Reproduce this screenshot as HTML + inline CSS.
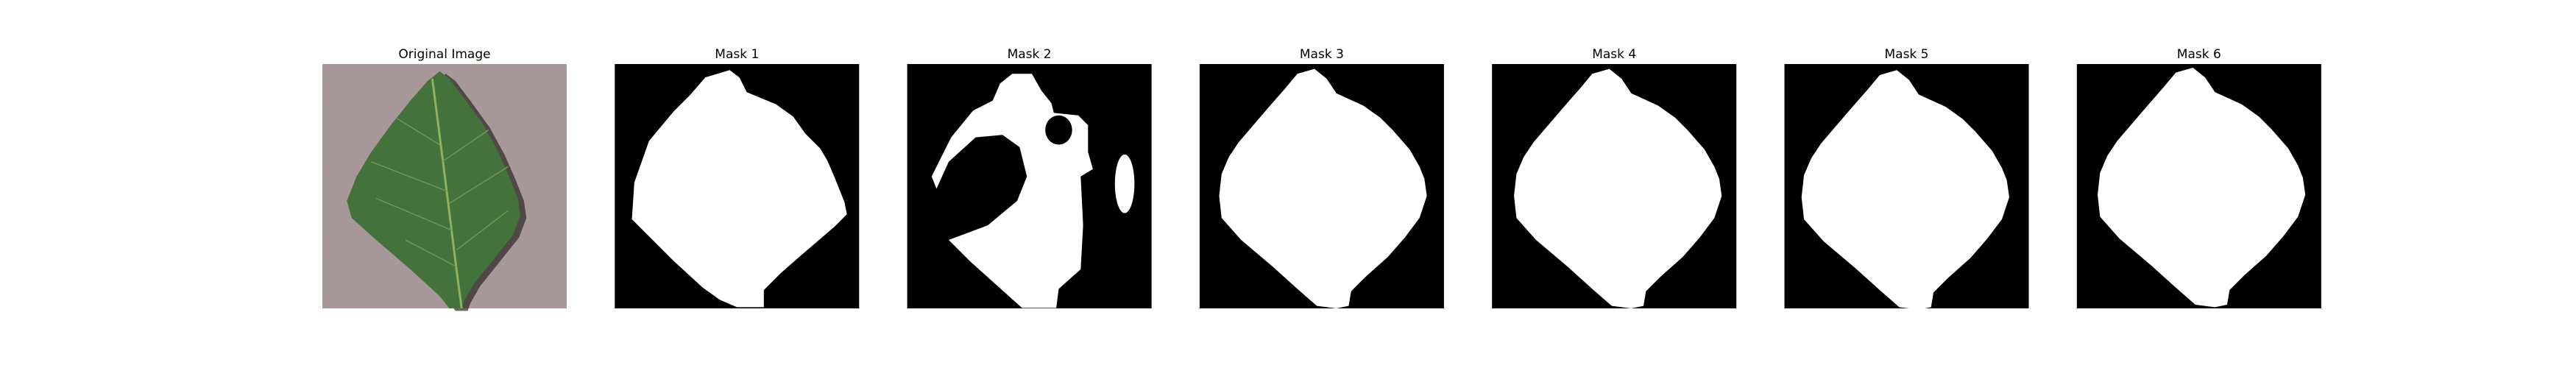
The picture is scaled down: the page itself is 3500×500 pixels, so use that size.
<!DOCTYPE html>
<html><head><meta charset="utf-8"><style>
html,body{margin:0;padding:0;background:#fff;}
svg{display:block;}
text{font-family:"DejaVu Sans","Liberation Sans",sans-serif;font-size:17px;fill:#000;}
</style></head><body>
<svg id="fig" width="3500" height="500" viewBox="0 0 3500 500" xmlns="http://www.w3.org/2000/svg">
<defs>
<filter id="grain" x="0" y="0" width="1" height="1">
<feTurbulence type="fractalNoise" baseFrequency="0.9" numOctaves="2" seed="3" result="n"/>
<feColorMatrix type="matrix" values="0 0 0 0 0.5  0 0 0 0 0.45  0 0 0 0 0.46  0 0 0 0.35 0" />
<feComposite in2="SourceGraphic" operator="in"/>
</filter>
</defs>
</svg>
<script>
const titles = ["Original Image","Mask 1","Mask 2","Mask 3","Mask 4","Mask 5","Mask 6"];
const leafBase = [[0.47,0.02],[0.52,0.06],[0.56,0.12],[0.67,0.17],[0.74,0.22],[0.79,0.27],[0.86,0.35],[0.90,0.42],[0.92,0.47],[0.93,0.54],[0.90,0.63],[0.84,0.71],[0.77,0.79],[0.68,0.87],[0.62,0.93],[0.61,0.99],[0.56,1.0],[0.48,0.99],[0.40,0.92],[0.30,0.83],[0.17,0.72],[0.09,0.63],[0.08,0.54],[0.09,0.45],[0.12,0.38],[0.16,0.32],[0.22,0.25],[0.28,0.18],[0.35,0.10],[0.40,0.04]];
const leafOrig = [[0.48,0.03],[0.52,0.06],[0.58,0.14],[0.66,0.25],[0.72,0.36],[0.76,0.45],[0.80,0.55],[0.81,0.62],[0.78,0.70],[0.70,0.80],[0.62,0.90],[0.58,0.97],[0.57,1.0],[0.52,1.0],[0.48,0.95],[0.36,0.84],[0.22,0.72],[0.12,0.63],[0.10,0.56],[0.14,0.46],[0.20,0.36],[0.28,0.25],[0.36,0.15],[0.43,0.07]];
const mask1 = [[0.48,0.02],[0.52,0.05],[0.55,0.11],[0.67,0.16],[0.74,0.21],[0.79,0.28],[0.85,0.34],[0.88,0.39],[0.91,0.46],[0.95,0.56],[0.96,0.61],[0.91,0.66],[0.84,0.72],[0.77,0.78],[0.69,0.85],[0.62,0.92],[0.62,0.99],[0.51,0.99],[0.44,0.96],[0.37,0.91],[0.25,0.80],[0.14,0.69],[0.08,0.63],[0.09,0.48],[0.15,0.31],[0.20,0.25],[0.25,0.19],[0.32,0.12],[0.38,0.05]];
const mask2Outer = [[0.43,0.04],[0.51,0.04],[0.55,0.11],[0.59,0.16],[0.60,0.20],[0.70,0.21],[0.74,0.25],[0.74,0.36],[0.76,0.43],[0.71,0.46],[0.72,0.66],[0.71,0.84],[0.62,0.92],[0.61,0.998],[0.47,0.998],[0.26,0.81],[0.17,0.72],[0.33,0.66],[0.45,0.56],[0.49,0.46],[0.46,0.34],[0.39,0.29],[0.28,0.30],[0.17,0.40],[0.12,0.51],[0.10,0.46],[0.14,0.38],[0.18,0.30],[0.27,0.19],[0.35,0.15],[0.38,0.08]];
const mask2Hole = [0.62,0.27,0.055,0.06];
const mask2Blob = [0.89,0.49,0.04,0.12];
const leafJitter = [[0,0],[0.01,0],[-0.01,0.005],[0.005,-0.005]];

const svg = document.getElementById('fig');
const NS = 'http://www.w3.org/2000/svg';
const axY = 87, axS = 332, axX0 = 438, axStep = 397.3;
function px(i, nx){ return axX0 + i*axStep + nx*axS; }
function py(ny){ return axY + ny*axS; }
function pts(i, arr, dx, dy){ return arr.map(p => px(i, p[0]+(dx||0)) + ',' + py(p[1]+(dy||0))).join(' '); }
function mk(tag, attrs){ const e = document.createElementNS(NS, tag); for (const k in attrs) e.setAttribute(k, attrs[k]); svg.appendChild(e); return e; }

titles.forEach((t, i) => {
  const cx = px(i, 0.5);
  const tt = mk('text', {x: cx, y: 79, 'text-anchor': 'middle'});
  
  
  tt.textContent = t;
  if (i === 0) {
    const bg = mk('rect', {x: px(0,0), y: axY, width: axS, height: axS, fill: '#a39294'});
    
    
    const g = mk('rect', {x: px(0,0), y: axY, width: axS, height: axS, fill: '#c8b9ba', filter: 'url(#grain)'});
    
    
    const sh = mk('polygon', {points: pts(0, leafOrig, 0.025, 0.01), fill: '#2c2523', opacity: 0.7});
    
    
    const leaf = mk('polygon', {points: pts(0, leafOrig), fill: '#43733a'});
    
    
    const mid = mk('polyline', {points: [[0.45,0.06],[0.50,0.45],[0.55,0.85],[0.57,1.0]].map(p=>px(0,p[0])+','+py(p[1])).join(' '), fill:'none', stroke:'#8fb061', 'stroke-width': 3});
    
    
    [[0.48,0.33,0.30,0.22],[0.49,0.40,0.68,0.27],[0.51,0.52,0.20,0.40],[0.52,0.57,0.76,0.42],[0.53,0.68,0.22,0.55],[0.55,0.76,0.76,0.60],[0.55,0.83,0.34,0.72]].forEach((v,k)=>{
      const l = mk('line', {x1: px(0,v[0]), y1: py(v[1]), x2: px(0,v[2]), y2: py(v[3]), stroke: '#6f9650', 'stroke-width': 1.5});
      
      
    });
  } else {
    const bg = mk('rect', {x: px(i,0), y: axY, width: axS, height: axS, fill: '#000'});
    
    
    if (i === 2) {
      const o = mk('polygon', {points: pts(i, mask2Outer), fill: '#fff'});
      
      
      const h = mk('ellipse', {cx: px(i, mask2Hole[0]), cy: py(mask2Hole[1]), rx: mask2Hole[2]*axS, ry: mask2Hole[3]*axS, fill: '#000'});
      
      
      const b = mk('ellipse', {cx: px(i, mask2Blob[0]), cy: py(mask2Blob[1]), rx: mask2Blob[2]*axS, ry: mask2Blob[3]*axS, fill: '#fff'});
      
      
    } else {
      const shape = i === 1 ? mask1 : leafBase;
      const j = leafJitter[(i-3+4)%4] || [0,0];
      const m = mk('polygon', {points: pts(i, shape, j[0], j[1]), fill: '#fff'});
      
      
    }
  }
});
</script>
</body></html>
